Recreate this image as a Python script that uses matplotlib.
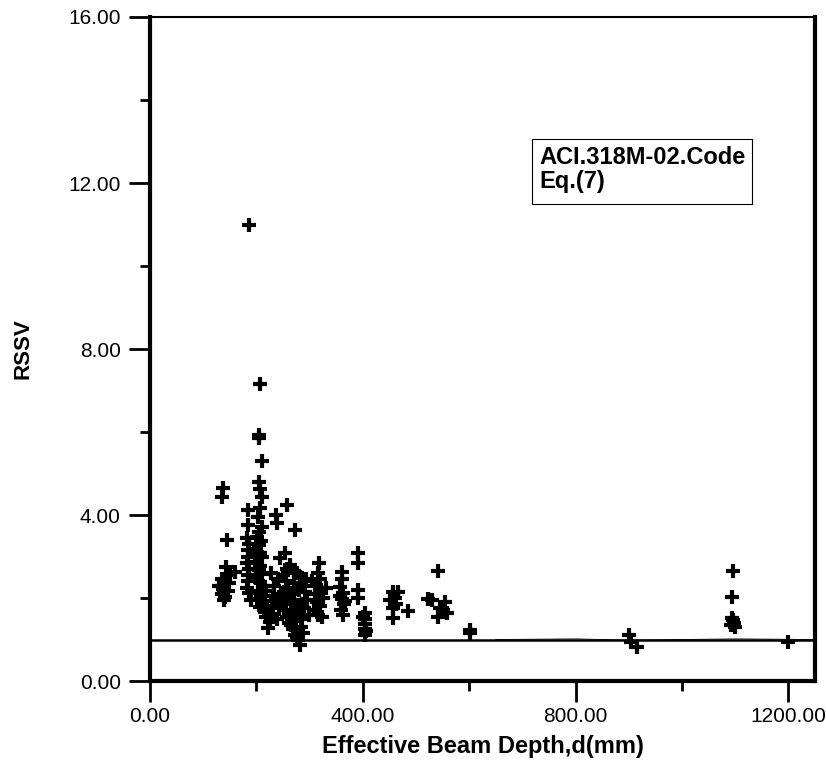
import matplotlib.pyplot as plt
from matplotlib.patches import Rectangle
from matplotlib.ticker import MultipleLocator, FormatStrFormatter

plt.rcParams['font.family'] = ['Liberation Sans', 'DejaVu Sans']

d = [
    # ~140 mm
    138, 135, 144, 142, 160, 150, 136, 140, 133, 138, 146, 135, 141, 139, 148, 130,
    # ~185 mm
    187, 185, 185, 183, 186, 184, 185, 183, 186, 184, 185, 183, 186, 190,
    # ~205 mm
    206, 204, 205, 210, 204, 207, 210, 207, 203, 210, 205, 201, 208, 204, 200, 206,
    210, 202, 207, 204, 210, 200, 206, 212, 203, 209, 205, 211, 207, 214, 200, 198,
    # 215-275 mm
    222, 218, 226, 221, 229, 217, 231, 219, 236, 233, 240, 228, 244, 254, 237, 238,
    257, 273, 232, 238, 242, 246, 248,
    # 250-300 mm
    250, 255, 260, 265, 270, 275, 280, 285, 252, 258, 262, 268, 272, 278, 282, 276,
    266, 256, 262, 270, 276, 282, 288, 292, 296, 290, 286, 298, 294, 280, 274, 268,
    284, 288, 252, 258, 264, 270,
    # 300-335 mm
    318, 315, 320, 312, 322, 310, 325, 314, 320, 308, 316, 324, 305, 330,
    # ~360 mm
    361, 361, 358, 362, 360, 364, 359, 363, 357, 366,
    # ~400 mm
    391, 391, 391, 391, 404, 404, 404, 404, 404, 401, 406,
    # ~460 mm
    457, 466, 451, 460, 457, 457, 485, 462,
    # ~540 mm
    541, 523, 530, 554, 545, 558, 541, 550,
    # 600 mm and deeper beams
    601, 601,
    900, 905, 915,
    1096, 1094, 1096, 1098, 1092, 1100, 1095,
    1200,
]
rssv = [
    4.64, 4.44, 3.40, 2.75, 2.63, 2.55, 2.45, 2.38, 2.30, 2.22, 2.18, 2.10, 2.02, 1.95, 2.35, 2.28,
    11.0, 4.12, 3.76, 3.45, 3.30, 3.15, 3.00, 2.85, 2.70, 2.55, 2.40, 2.25, 2.12, 1.95,
    7.16, 5.93, 5.86, 5.31, 4.80, 4.62, 4.44, 4.17, 3.95, 3.72, 3.58, 3.48, 3.38, 3.28, 3.18, 3.08,
    2.98, 2.88, 2.78, 2.68, 2.58, 2.48, 2.38, 2.28, 2.18, 2.08, 1.98, 1.88, 1.78, 1.70, 2.70, 3.05,
    1.28, 1.55, 1.42, 1.68, 1.80, 1.92, 2.05, 2.18, 1.95, 2.30, 2.45, 2.60, 2.96, 3.08, 4.00, 3.81,
    4.24, 3.64, 1.62, 1.50, 1.75, 2.10, 1.88,
    2.55, 2.40, 2.25, 2.10, 1.95, 1.80, 1.65, 1.50, 1.70, 1.55, 1.40, 1.25, 1.10, 0.98, 0.87, 1.05,
    1.35, 1.85, 2.00, 2.35, 2.60, 2.50, 2.30, 2.15, 1.95, 1.75, 1.85, 1.60, 2.45, 2.20, 1.45, 1.62,
    1.30, 1.15, 2.15, 2.70, 2.80, 2.65,
    2.84, 2.60, 2.45, 2.30, 2.20, 2.10, 2.00, 1.90, 1.80, 1.70, 1.60, 1.55, 2.40, 2.25,
    2.63, 2.47, 2.27, 2.12, 1.98, 1.85, 1.72, 1.60, 2.05, 1.92,
    3.08, 2.84, 2.19, 2.00, 1.64, 1.50, 1.38, 1.25, 1.10, 1.55, 1.20,
    2.14, 2.14, 1.95, 2.00, 1.76, 1.52, 1.69, 1.85,
    2.65, 1.98, 1.95, 1.90, 1.76, 1.64, 1.55, 1.70,
    1.23, 1.15,
    1.11, 0.94, 0.82,
    2.65, 2.02, 1.47, 1.40, 1.35, 1.31, 1.52,
    0.94,
]

# faint second line near RSSV = 1 on the right side
line_x = [650, 800, 900, 1000, 1100, 1250]
line_y = [1.0, 1.015, 0.985, 1.0, 1.015, 1.0]

fig = plt.figure(figsize=(8.26, 7.69), dpi=100)
ax = fig.add_axes([0.1816, 0.1144, 0.805, 0.8635])

ax.plot(d, rssv, linestyle='none', marker='+', markersize=10,
        markeredgewidth=3, color='black', zorder=3)
ax.axhline(1.0, color='black', linewidth=1.8, zorder=2)
ax.plot(line_x, line_y, color='black', linewidth=0.6, zorder=2)

ax.set_xlim(0, 1250)
ax.set_ylim(0, 16)
ax.xaxis.set_major_locator(MultipleLocator(400))
ax.xaxis.set_minor_locator(MultipleLocator(200))
ax.yaxis.set_major_locator(MultipleLocator(4))
ax.yaxis.set_minor_locator(MultipleLocator(2))
ax.xaxis.set_major_formatter(FormatStrFormatter('%.2f'))
ax.yaxis.set_major_formatter(FormatStrFormatter('%.2f'))
ax.tick_params(which='major', direction='out', length=15, width=2, labelsize=15)
ax.tick_params(axis='y', which='major', pad=6)
ax.tick_params(axis='x', which='major', pad=4)
ax.tick_params(which='minor', direction='out', length=7, width=2)

for side in ['left', 'bottom', 'right']:
    ax.spines[side].set_linewidth(3)
ax.spines['top'].set_linewidth(1.5)

ax.set_xlabel('Effective Beam Depth,d(mm)', fontsize=17, fontweight='bold', labelpad=6)
ax.set_ylabel('RSSV', fontsize=16, fontweight='bold')
ax.yaxis.set_label_coords(-0.175, 0.5)

ax.add_patch(Rectangle((0.574, 0.718), 0.331, 0.098, transform=ax.transAxes,
                       fill=False, edgecolor='black', linewidth=0.8, zorder=4))
ax.text(0.586, 0.770, 'ACI.318M-02.Code\nEq.(7)', transform=ax.transAxes,
        fontsize=17, fontweight='bold', va='center', ha='left', linespacing=1.05)

fig.savefig('out.png', dpi=100)
